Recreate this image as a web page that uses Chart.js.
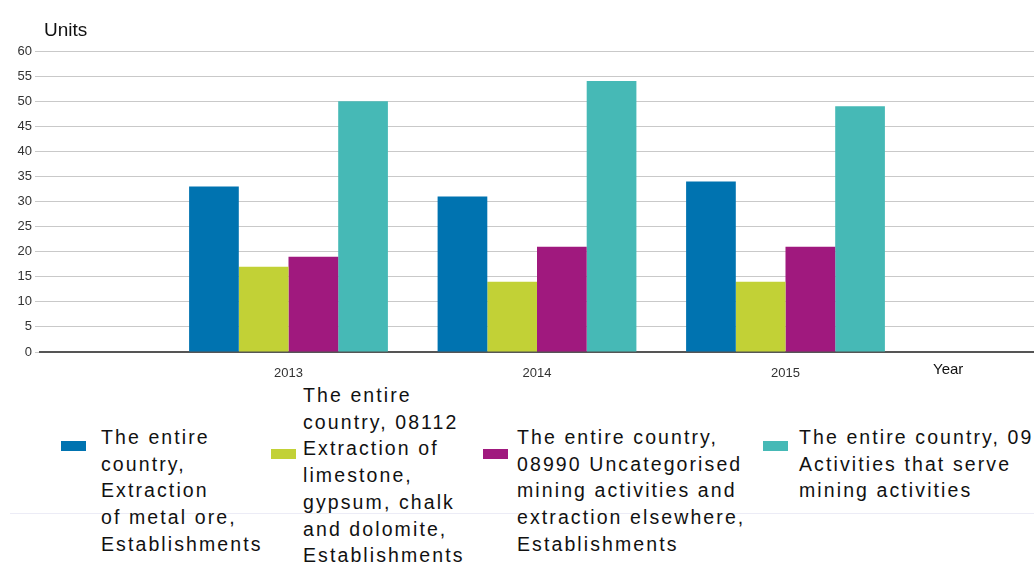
<!DOCTYPE html>
<html>
<head>
<meta charset="utf-8">
<script src="https://cdn.jsdelivr.net/npm/chart.js@4.4.1/dist/chart.umd.min.js"></script>
<style>
  html, body { margin: 0; padding: 0; background: #fff; }
  body { width: 1034px; height: 566px; overflow: hidden; position: relative;
         font-family: 'Liberation Sans', Arial, sans-serif; }
  #wrap { position: absolute; left: 0; top: 0; width: 1034px; height: 380px; }
  .rule { position: absolute; left: 10px; right: 0; top: 513px; height: 1px; background: #ececf6; }
  .lg-box { position: absolute; width: 25px; height: 10px; }
  .lg-text { position: absolute; font-size: 19.5px; letter-spacing: 2.1px; line-height: 26.7px;
             color: #111; white-space: nowrap; }
</style>
</head>
<body>
<div id="wrap"><canvas id="c"></canvas></div>
<div class="rule"></div>
<div id="legend"></div>
<script>
// ── Data ──────────────────────────────────────────────
const YEARS = ['2013', '2014', '2015'];
const METAL_ORE   = [33, 31, 34];
const LIMESTONE   = [17, 14, 14];
const UNCATEG     = [19, 21, 21];
const SERVICES    = [50, 54, 49];
const Y_TICKS_MAX = 60;

const COLORS = ['#0073b0', '#c2d136', '#a0197e', '#46b9b6'];

// legend lines (wrapped as in the source)
const LEGEND = [
  { lines: ['The entire', 'country,', 'Extraction', 'of metal ore,', 'Establishments'], box: [61, 441], text: [101, 424] },
  { lines: ['The entire', 'country, 08112', 'Extraction of', 'limestone,', 'gypsum, chalk', 'and dolomite,', 'Establishments'], box: [271, 449], text: [303, 382] },
  { lines: ['The entire country,', '08990 Uncategorised', 'mining activities and', 'extraction elsewhere,', 'Establishments'], box: [483, 449], text: [517, 424] },
  { lines: ['The entire country, 09', 'Activities that serve', 'mining activities'], box: [763, 441], text: [799, 424] },
];

Chart.defaults.font.family = "'Liberation Sans', Arial, sans-serif";
Chart.defaults.color = '#333';

const series = [METAL_ORE, LIMESTONE, UNCATEG, SERVICES];
const datasets = series.map((vals, i) => ({
  label: LEGEND[i].lines.join(' '),
  data: vals.map((v, j) => ({ x: j, y: v })),
  backgroundColor: COLORS[i],
  borderWidth: 0,
  categoryPercentage: 0.8,
  barPercentage: 1.0,
}));

// axis captions ("Units", "Year")
const captions = {
  id: 'captions',
  afterDraw(chart) {
    const ctx = chart.ctx;
    ctx.save();
    ctx.fillStyle = '#111';
    ctx.textBaseline = 'middle';
    ctx.textAlign = 'left';
    ctx.font = "19px 'Liberation Sans', Arial, sans-serif";
    ctx.fillText('Units', 44, 31);
    ctx.font = "15px 'Liberation Sans', Arial, sans-serif";
    ctx.fillText('Year', 933, 370);
    ctx.restore();
  }
};

new Chart(document.getElementById('c'), {
  type: 'bar',
  data: { datasets },
  plugins: [captions],
  options: {
    responsive: true,
    maintainAspectRatio: false,
    animation: false,
    layout: { padding: { top: 51, right: 0, bottom: 0, left: 0 } },
    plugins: { legend: { display: false }, tooltip: { enabled: false } },
    scales: {
      x: {
        type: 'linear',
        min: -1,
        max: 3,
        offset: false,
        afterBuildTicks: s => { s.ticks = YEARS.map((_, i) => ({ value: i })); },
        afterFit: s => { s.height = 28; },
        ticks: {
          callback: v => YEARS[v] ?? '',
          font: { size: 13 },
          color: '#333',
          padding: 6,
          maxRotation: 0,
        },
        grid: { display: false, offset: false },
        border: { display: true, color: '#555', width: 2 },
      },
      y: {
        min: 0,
        max: Y_TICKS_MAX,
        afterFit: s => { s.width = 40; },
        ticks: { stepSize: 5, font: { size: 13 }, color: '#333', padding: 3 },
        grid: { color: '#c9c9c9', lineWidth: 1, tickLength: 5 },
        border: { display: false },
      }
    }
  }
});

// legend
const lg = document.getElementById('legend');
LEGEND.forEach((item, i) => {
  const b = document.createElement('div');
  b.className = 'lg-box';
  b.style.left = item.box[0] + 'px';
  b.style.top = item.box[1] + 'px';
  b.style.background = COLORS[i];
  lg.appendChild(b);
  const t = document.createElement('div');
  t.className = 'lg-text';
  t.style.left = item.text[0] + 'px';
  t.style.top = item.text[1] + 'px';
  t.innerHTML = item.lines.join('<br>');
  lg.appendChild(t);
});
</script>
</body>
</html>
